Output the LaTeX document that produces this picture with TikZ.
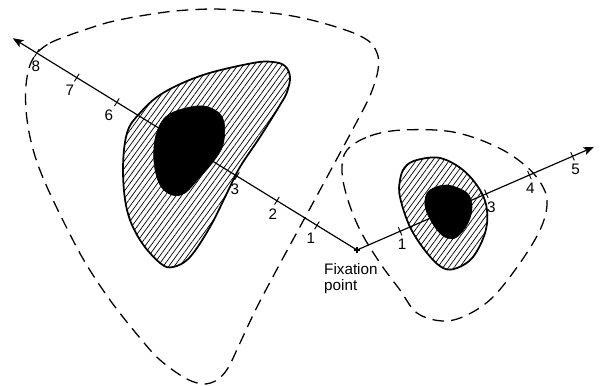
\documentclass[tikz,border=0pt]{standalone}
\usepackage{fontspec}
\setmainfont{Liberation Sans}
\usetikzlibrary{calc, arrows.meta, patterns.meta}

\begin{document}
\begin{tikzpicture}[x=0.3mm, y=-0.3mm,
    axis/.style={line width=1pt},
    tickmark/.style={line width=0.8pt},
    num/.style={font=\fontsize{13}{14}\selectfont, inner sep=0pt},
    field/.style={line width=1.1pt, dash pattern=on 10pt off 6pt},
    blob/.style={line width=1.5pt, pattern={Lines[angle=54,distance=3.8pt,line width=0.6pt]}},
    core/.style={fill=black, draw=black, line width=0.5pt}]
    % Define axis scale
    \def\unit{47}
    \def\angL{211.6}
    \def\angR{336.5}

    % Fix the frame
    \useasboundingbox (0,0) rectangle (602,385);

    % Define the fixation point and the axis ends
    \coordinate (fix) at (357,250);
    \coordinate (tipL) at ($(fix)+(\angL:8.6*\unit)$);
    \coordinate (tipR) at ($(fix)+(\angR:5.5*\unit)$);

    % Draw the dashed fields
    \draw[field] plot[smooth cycle, tension=0.55] coordinates {
        (38,52) (50,43) (67,36) (87,29) (110,22) (140,16) (175,11) (213,9)
        (247,11) (280,14) (307,19) (333,26) (356,34) (371,43) (378,56) (378,70)
        (373,88) (363,110) (320,190) (283,258) (257,307) (240,343) (228,368)
        (217,380) (203,384) (185,378) (160,360) (140,338) (110,300) (82,257)
        (53,200) (38,165) (30,137) (26,110) (26,85) (30,65)};
    \draw[field] plot[smooth cycle, tension=0.6] coordinates {
        (347,150) (370,136) (403,130) (453,132) (497,147) (527,167) (543,187)
        (547,205) (540,230) (520,263) (493,297) (467,315) (443,321) (417,313)
        (400,290) (380,263) (360,230) (347,197) (342,170)};

    % Draw the hatched zones
    \draw[blob] plot[smooth cycle, tension=0.6] coordinates {
        (273,62) (285,66) (290,77) (287,92) (280,105) (260,137) (240,167)
        (227,193) (210,227) (190,257) (173,267) (160,263) (140,240) (127,210)
        (123,170) (127,133) (140,113) (163,93) (203,75) (253,63)};
    \draw[blob] plot[smooth cycle, tension=0.6] coordinates {
        (400,180) (405,167) (417,160) (440,158) (463,170) (480,190) (487,210)
        (485,233) (473,257) (457,268) (443,268) (427,253) (410,227) (400,197)};

    % Draw axes
    \draw[axis,-{Stealth[length=9pt,width=7pt,inset=2pt]}] (fix) -- (tipL);
    \draw[axis,-{Stealth[length=9pt,width=7pt,inset=2pt]}] (fix) -- (tipR);

    % Draw the black cores
    \draw[core] plot[smooth cycle, tension=0.6] coordinates {
        (197,106) (215,110) (224,122) (223,145) (213,162) (200,177) (185,193)
        (172,195) (160,185) (154,162) (156,135) (168,115)};
    \draw[core] plot[smooth cycle, tension=0.6] coordinates {
        (430,190) (447,185) (467,193) (472,207) (468,223) (457,237) (447,238)
        (437,230) (427,213) (425,200)};

    % Label the axes
    \foreach \i/\dx in {1/-6, 2/-4, 3/-2, 6/-8, 7/-7, 8/-1}{
        \coordinate (L\i) at ($(fix)+(\angL:\i*\unit)$);
        \draw[tickmark] ($(L\i)+(\angL+90:4.5)$) -- ($(L\i)+(\angL-90:4.5)$);
        \node[num] (nL\i) at ($(L\i)+(\dx,13)$) {\i};
    }
    \foreach \i/\dx in {1/2, 3/5, 4/1, 5/3}{
        \coordinate (R\i) at ($(fix)+(\angR:\i*\unit)$);
        \draw[tickmark] ($(R\i)+(\angR+90:4.5)$) -- ($(R\i)+(\angR-90:4.5)$);
        \node[num] (nR\i) at ($(R\i)+(\dx,13)$) {\i};
    }

    % Mark the fixation point
    \draw[line width=1pt] ($(fix)+(-3,0)$) -- ($(fix)+(3,0)$);
    \draw[line width=1pt] ($(fix)+(0,-3)$) -- ($(fix)+(0,3)$);
    \node[num, align=left, anchor=north west] (fixText) at (324,263) {Fixation\\point};

\end{tikzpicture}
\end{document}
